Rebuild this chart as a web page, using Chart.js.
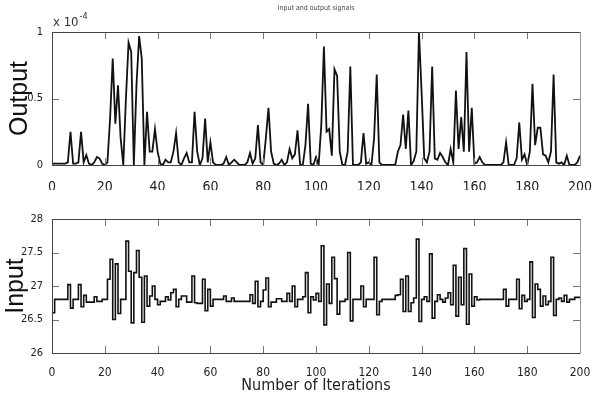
<!DOCTYPE html>
<html>
<head>
<meta charset="utf-8">
<title>Input and output signals</title>
<script src="https://cdn.jsdelivr.net/npm/chart.js@4.4.1/dist/chart.umd.min.js"></script>
<style>
    html, body { margin: 0; padding: 0; background: #fff; }
    #wrap { position: relative; width: 592px; height: 398px; }
    #topBox { position: absolute; left: 0; top: 0; width: 592px; height: 190px; }
    #bottomBox { position: absolute; left: 0; top: 190px; width: 592px; height: 208px; }
</style>
</head>
<body>
<div id="wrap">
    <div id="topBox"><canvas id="outputChart" width="592" height="190"></canvas></div>
    <div id="bottomBox"><canvas id="inputChart" width="592" height="208"></canvas></div>
</div>
<script>
// iteration index (x axis)
const iterations = [];
for (let i = 0; i <= 200; i++) iterations.push(i);

// output signal, in units of 1e-4
const outputValues = [
    0.01, 0.01, 0.01, 0.01, 0.01, 0.01, 0.02, 0.25, 0.01, 0.01,
    0.02, 0.25, 0.02, 0.075, 0.01, 0, 0.02, 0.06, 0.05, 0.01,
    0, 0.02, 0.35, 0.8, 0.31, 0.6, 0.2, 0, 0.5, 0.92,
    0.85, 0, 0.6, 0.97, 0.8, 0, 0.4, 0.1, 0.1, 0.27,
    0.1, 0.01, 0, 0.04, 0.02, 0.02, 0.1, 0.24, 0.02, 0,
    0.05, 0.09, 0.02, 0.02, 0.4, 0.1, 0, 0.05, 0.35, 0.02,
    0.17, 0.02, 0, 0, 0, 0.01, 0.06, 0, 0.02, 0.04,
    0.02, 0, 0, 0, 0.02, 0.09, 0.01, 0.05, 0.3, 0.02,
    0, 0.2, 0.43, 0.1, 0.01, 0, 0.01, 0.04, 0, 0.02,
    0.12, 0.05, 0.08, 0.26, 0, 0, 0.15, 0.46, 0.01, 0,
    0.06, 0, 0.3, 0.89, 0.25, 0.27, 0.07, 0.72, 0.67, 0.1,
    0, 0, 0.1, 0.74, 0, 0, 0, 0.02, 0.24, 0.01,
    0.02, 0, 0.2, 0.68, 0.02, 0, 0, 0, 0, 0,
    0, 0.1, 0.15, 0.38, 0.12, 0.41, 0, 0.03, 0.1, 1.0,
    0.55, 0.05, 0.02, 0.1, 0.74, 0.05, 0.04, 0.09, 0.06, 0.02,
    0, 0.12, 0.02, 0.56, 0.12, 0.36, 0.1, 0.85, 0.1, 0.43,
    0.01, 0.02, 0.06, 0.02, 0, 0, 0, 0, 0, 0,
    0, 0.02, 0.17, 0, 0, 0, 0.05, 0.32, 0.04, 0.08,
    0, 0.1, 0.61, 0.15, 0.28, 0.28, 0.08, 0.07, 0.02, 0.1,
    0.68, 0.02, 0.01, 0.02, 0, 0.07, 0, 0, 0, 0.02,
    0.07
];

// input signal (stairs)
const inputValues = [
    26.6, 26.6, 26.8, 26.8, 26.8, 26.8, 26.8, 27.02, 26.67, 26.8,
    26.8, 27.02, 26.69, 26.86, 26.76, 26.76, 26.76, 26.84, 26.77, 26.77,
    26.8, 26.8, 27.1, 27.4, 26.5, 27.33, 26.59, 26.8, 26.8, 27.67,
    27.22, 26.45, 27.2, 27.53, 27.13, 26.46, 27.15, 26.7, 26.85, 27.0,
    26.8, 26.72, 26.77, 26.77, 26.84, 26.79, 26.9, 26.95, 26.69, 26.8,
    26.85, 26.85, 26.76, 26.76, 27.15, 26.75, 26.74, 26.74, 27.1, 26.63,
    26.95, 26.7, 26.8, 26.8, 26.8, 26.8, 26.85, 26.77, 26.77, 26.82,
    26.77, 26.77, 26.77, 26.77, 26.77, 26.77, 26.87, 26.74, 27.07, 26.69,
    26.77, 26.94, 27.12, 26.69, 26.76, 26.76, 26.81, 26.81, 26.77, 26.77,
    26.89, 26.77, 27.0, 26.69, 26.8, 26.8, 26.84, 27.2, 26.6, 26.84,
    26.79, 26.89, 26.77, 27.6, 26.42, 27.03, 26.74, 27.43, 27.11, 26.58,
    26.77, 26.77, 26.8, 27.5, 26.48, 26.8, 26.8, 26.8, 27.0, 26.69,
    26.8, 26.8, 26.8, 27.43, 26.57, 26.77, 26.8, 26.8, 26.8, 26.8,
    26.8, 26.86, 26.87, 27.1, 26.62, 27.15, 26.62, 26.75, 26.82, 27.7,
    26.47, 26.8, 26.84, 26.77, 27.48, 26.52, 26.77, 26.87, 26.8, 26.76,
    26.82, 26.9, 26.72, 27.31, 26.55, 27.13, 26.72, 27.56, 26.43, 27.18,
    26.7, 26.84, 26.79, 26.8, 26.8, 26.8, 26.8, 26.8, 26.8, 26.8,
    26.8, 26.8, 26.95, 26.7, 26.8, 26.8, 26.8, 27.1, 26.66, 26.86,
    26.77, 26.8, 27.36, 26.53, 27.03, 26.95, 26.7, 26.85, 26.72, 26.77,
    27.43, 26.56, 26.8, 26.82, 26.77, 26.86, 26.76, 26.8, 26.8, 26.83,
    26.83
];

// axis settings
const xTickStep = 20;
const outputTicks = [0, 0.5, 1];
const inputTicks = [26, 26.5, 27, 27.5, 28];

const narrowFont = "'DejaVu Sans Condensed', 'Liberation Sans', sans-serif";
const plainFont = "'Liberation Sans', Arial, sans-serif";

function toPoints(values) {
    return values.map((v, i) => ({ x: iterations[i], y: v }));
}

// MATLAB style box with inward tick marks on every side
const boxPlugin = {
    id: 'matlabBox',
    afterDraw(chart) {
        const ctx = chart.ctx;
        const a = chart.chartArea;
        const xs = chart.scales.x;
        const ys = chart.scales.y;
        const len = 7;
        ctx.save();
        ctx.lineWidth = 1;
        ctx.strokeStyle = '#777';
        ctx.beginPath();
        xs.ticks.forEach(t => {
            const px = Math.round(xs.getPixelForValue(t.value)) + 0.5;
            ctx.moveTo(px, a.bottom);
            ctx.lineTo(px, a.bottom - len);
            ctx.moveTo(px, a.top);
            ctx.lineTo(px, a.top + len);
        });
        ys.ticks.forEach(t => {
            const py = Math.round(ys.getPixelForValue(t.value)) + 0.5;
            ctx.moveTo(a.left, py);
            ctx.lineTo(a.left + len, py);
            ctx.moveTo(a.right, py);
            ctx.lineTo(a.right - len, py);
        });
        ctx.stroke();
        ctx.strokeStyle = '#444';
        ctx.beginPath();
        ctx.moveTo(Math.round(a.left) + 0.5, Math.round(a.top) + 0.5);
        ctx.lineTo(Math.round(a.right) + 0.5, Math.round(a.top) + 0.5);
        ctx.moveTo(Math.round(a.left) + 0.5, Math.round(a.top) + 0.5);
        ctx.lineTo(Math.round(a.left) + 0.5, Math.round(a.bottom) + 0.5);
        ctx.lineTo(Math.round(a.right) + 0.5, Math.round(a.bottom) + 0.5);
        ctx.stroke();
        ctx.strokeStyle = '#999';
        ctx.beginPath();
        ctx.moveTo(Math.round(a.right) + 0.5, Math.round(a.top) + 0.5);
        ctx.lineTo(Math.round(a.right) + 0.5, Math.round(a.bottom) + 0.5);
        ctx.stroke();

        // "x 10^-4" multiplier above the top-left corner
        const mult = chart.options.plugins.matlabBox && chart.options.plugins.matlabBox.exponent;
        if (mult) {
            ctx.fillStyle = '#333';
            ctx.textBaseline = 'alphabetic';
            ctx.textAlign = 'left';
            ctx.font = '13px ' + narrowFont;
            const base = 'x 10';
            ctx.fillText(base, a.left + 1, a.top - 6);
            const w = ctx.measureText(base).width;
            ctx.font = '9px ' + narrowFont;
            ctx.fillText(mult, a.left + 2 + w, a.top - 13);
        }
        ctx.restore();
    }
};

function baseOptions(cfg) {
    return {
        responsive: false,
        animation: false,
        events: [],
        layout: { padding: cfg.padding },
        plugins: {
            legend: { display: false },
            tooltip: { enabled: false },
            title: cfg.title,
            matlabBox: { exponent: cfg.exponent }
        },
        scales: {
            x: {
                type: 'linear',
                min: 0,
                max: 200,
                grid: { display: false },
                border: { display: false },
                ticks: {
                    stepSize: xTickStep,
                    color: '#222',
                    padding: cfg.xTickPad,
                    maxRotation: 0,
                    font: { family: narrowFont, size: cfg.xTickSize }
                },
                title: cfg.xTitle,
                afterFit: s => {
                    s.height = cfg.xHeight;
                    s.paddingLeft = 0;
                    s.paddingRight = 0;
                }
            },
            y: {
                min: cfg.yMin,
                max: cfg.yMax,
                grid: { display: false },
                border: { display: false },
                afterBuildTicks: s => { s.ticks = cfg.yTicks.map(v => ({ value: v })); },
                ticks: {
                    color: '#222',
                    padding: 1,
                    font: { family: narrowFont, size: 11 },
                    callback: v => String(v)
                },
                title: {
                    display: true,
                    text: cfg.yLabel,
                    color: '#111',
                    font: { family: plainFont, size: 25, lineHeight: 1 },
                    padding: { top: cfg.yTitlePad, bottom: 0 }
                },
                afterFit: s => {
                    s.width = 52;
                    s.paddingTop = 0;
                    s.paddingBottom = 0;
                }
            }
        }
    };
}

new Chart(document.getElementById('outputChart'), {
    type: 'line',
    data: {
        datasets: [{
            data: toPoints(outputValues),
            borderColor: '#111',
            borderWidth: 1.8,
            pointRadius: 0,
            tension: 0
        }]
    },
    options: baseOptions({
        padding: { left: 0, right: 12, top: 0, bottom: 0 },
        title: {
            display: true,
            text: 'Input and output signals',
            fullSize: false,
            color: '#444',
            font: { family: narrowFont, size: 7, weight: 'normal', lineHeight: 1 },
            padding: { top: 5, bottom: 20 }
        },
        exponent: '-4',
        xTickPad: 6,
        xTickSize: 14,
        xTitle: { display: false },
        xHeight: 25,
        yMin: 0,
        yMax: 1,
        yTicks: outputTicks,
        yLabel: 'Output',
        yTitlePad: 8
    }),
    plugins: [boxPlugin]
});

new Chart(document.getElementById('inputChart'), {
    type: 'line',
    data: {
        datasets: [{
            data: toPoints(inputValues),
            borderColor: '#111',
            borderWidth: 1.6,
            pointRadius: 0,
            stepped: 'after'
        }]
    },
    options: baseOptions({
        padding: { left: 0, right: 12, top: 29, bottom: 0 },
        title: { display: false },
        exponent: null,
        xTickPad: 5,
        xTickSize: 12,
        xTitle: {
            display: true,
            text: 'Number of Iterations',
            color: '#222',
            font: { family: narrowFont, size: 16, lineHeight: 1 },
            padding: { top: 0, bottom: 4 }
        },
        xHeight: 45,
        yMin: 26,
        yMax: 28,
        yTicks: inputTicks,
        yLabel: 'Input',
        yTitlePad: 4
    }),
    plugins: [boxPlugin]
});
</script>
</body>
</html>
